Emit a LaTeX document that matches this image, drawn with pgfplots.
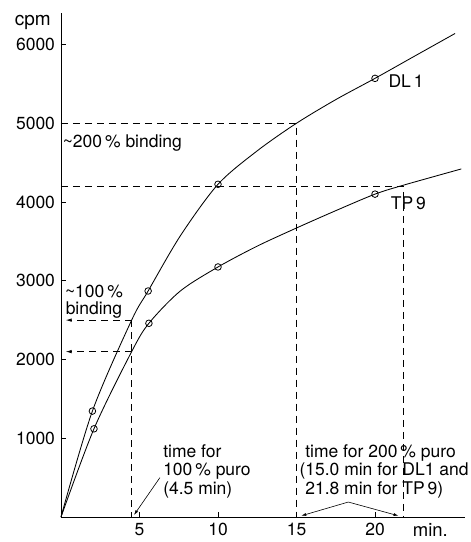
\documentclass[border=0pt]{standalone}
\usepackage{fontspec}
\setmainfont{TeX Gyre Heros}
\usepackage{pgfplots}
\pgfplotsset{compat=1.18}
\usetikzlibrary{arrows.meta}
\begin{document}
\fontsize{17.5}{18.5}\selectfont
\begin{tikzpicture}
\path[use as bounding box] (-61pt,-25pt) rectangle (410pt,517pt);
\begin{axis}[
  scale only axis,
  width=403.5pt, height=504pt,
  xmin=0, xmax=25.7, ymin=0, ymax=6400,
  axis lines=left,
  axis line style={-, line width=0.9pt},
  tick align=inside,
  major tick length=5pt,
  tick style={line width=0.9pt, black},
  xtick={5,10,15,20},
  ytick={1000,2000,3000,4000,5000,6000},
  /pgf/number format/assume math mode=true,
  /pgf/number format/1000 sep={},
  tick label style={font=\fontsize{17.5}{20}\selectfont},
  clip=false,
  every axis plot/.append style={line width=0.85pt, black},
]
% dashed guide lines
\addplot[dash pattern=on 7pt off 5pt, line width=0.7pt] coordinates {(0,5000) (15,5000) (15,0)};
\addplot[dash pattern=on 7pt off 5pt, line width=0.7pt] coordinates {(0,4200) (21.8,4200) (21.8,0)};
\addplot[dash pattern=on 7pt off 5pt, line width=0.7pt] coordinates {(4.5,2500) (4.5,0)};
\addplot[dash pattern=on 7pt off 5pt, line width=0.7pt, -{Latex[length=6pt,width=3.5pt]}] coordinates {(4.5,2500) (0.3,2500)};
\addplot[dash pattern=on 7pt off 5pt, line width=0.7pt, -{Latex[length=6pt,width=3.5pt]}] coordinates {(4.5,2100) (0.3,2100)};
% DL1 curve
\addplot[smooth] coordinates {(0,0) (2,1345) (4.5,2500) (5.55,2870) (7.6,3570) (10,4225) (12.5,4650) (15,5000) (17.5,5300) (20,5570) (22.5,5850) (25.1,6140)};
\addplot[only marks, mark=o, mark size=3.3pt, mark options={fill=white, line width=0.8pt}] coordinates {(2,1345) (5.55,2870) (10,4225) (20,5570)};
% TP9 curve
\addplot[smooth] coordinates {(0,0) (2.1,1120) (4.5,2100) (5.6,2460) (7.6,2870) (10,3175) (12.5,3440) (15,3670) (17.5,3890) (20,4100) (21.8,4213) (25.5,4420)};
\addplot[only marks, mark=o, mark size=3.3pt, mark options={fill=white, line width=0.8pt}] coordinates {(2.1,1120) (5.6,2460) (10,3175) (20,4100)};
% leader lines
\addplot[line width=0.6pt, -{Latex[length=5pt,width=3pt]}] coordinates {(6.3,500) (4.65,25)};
\addplot[line width=0.6pt, -{Latex[length=5pt,width=3pt]}] coordinates {(18.3,190) (15.3,15)};
\addplot[line width=0.6pt, -{Latex[length=5pt,width=3pt]}] coordinates {(18.3,190) (21.5,15)};
% labels
\node[anchor=west, inner sep=0pt] at (axis cs:20.85,5533) {DL\,1};
\node[anchor=west, inner sep=0pt] at (axis cs:21.0,3985) {TP\,9};
\node[anchor=west, inner sep=0pt] at (axis cs:0.1,4746) {\textasciitilde200\,\% binding};
\node[align=center, inner sep=0pt, font=\fontsize{17.5}{17}\selectfont] at (axis cs:2.1,2740) {\textasciitilde100\,\%\\binding};
\node[align=left, anchor=north west, inner sep=0pt] at (axis cs:6.5,926) {time for\\100\,\% puro\\(4.5 min)};
\node[align=left, anchor=north west, inner sep=0pt] at (axis cs:15.55,926) {time for 200\,\% puro\\\llap{(}15.0 min for DL1 and\\21.8 min for TP\,9)};
\node[anchor=base west, inner sep=0pt, font=\fontsize{18.5}{20}\selectfont] at (axis cs:22.4,-250) {min.};
\node[anchor=south, inner sep=0pt, font=\fontsize{19}{20}\selectfont] at (axis cs:-1.8,6180) {cpm};
\end{axis}
\end{tikzpicture}
\end{document}
